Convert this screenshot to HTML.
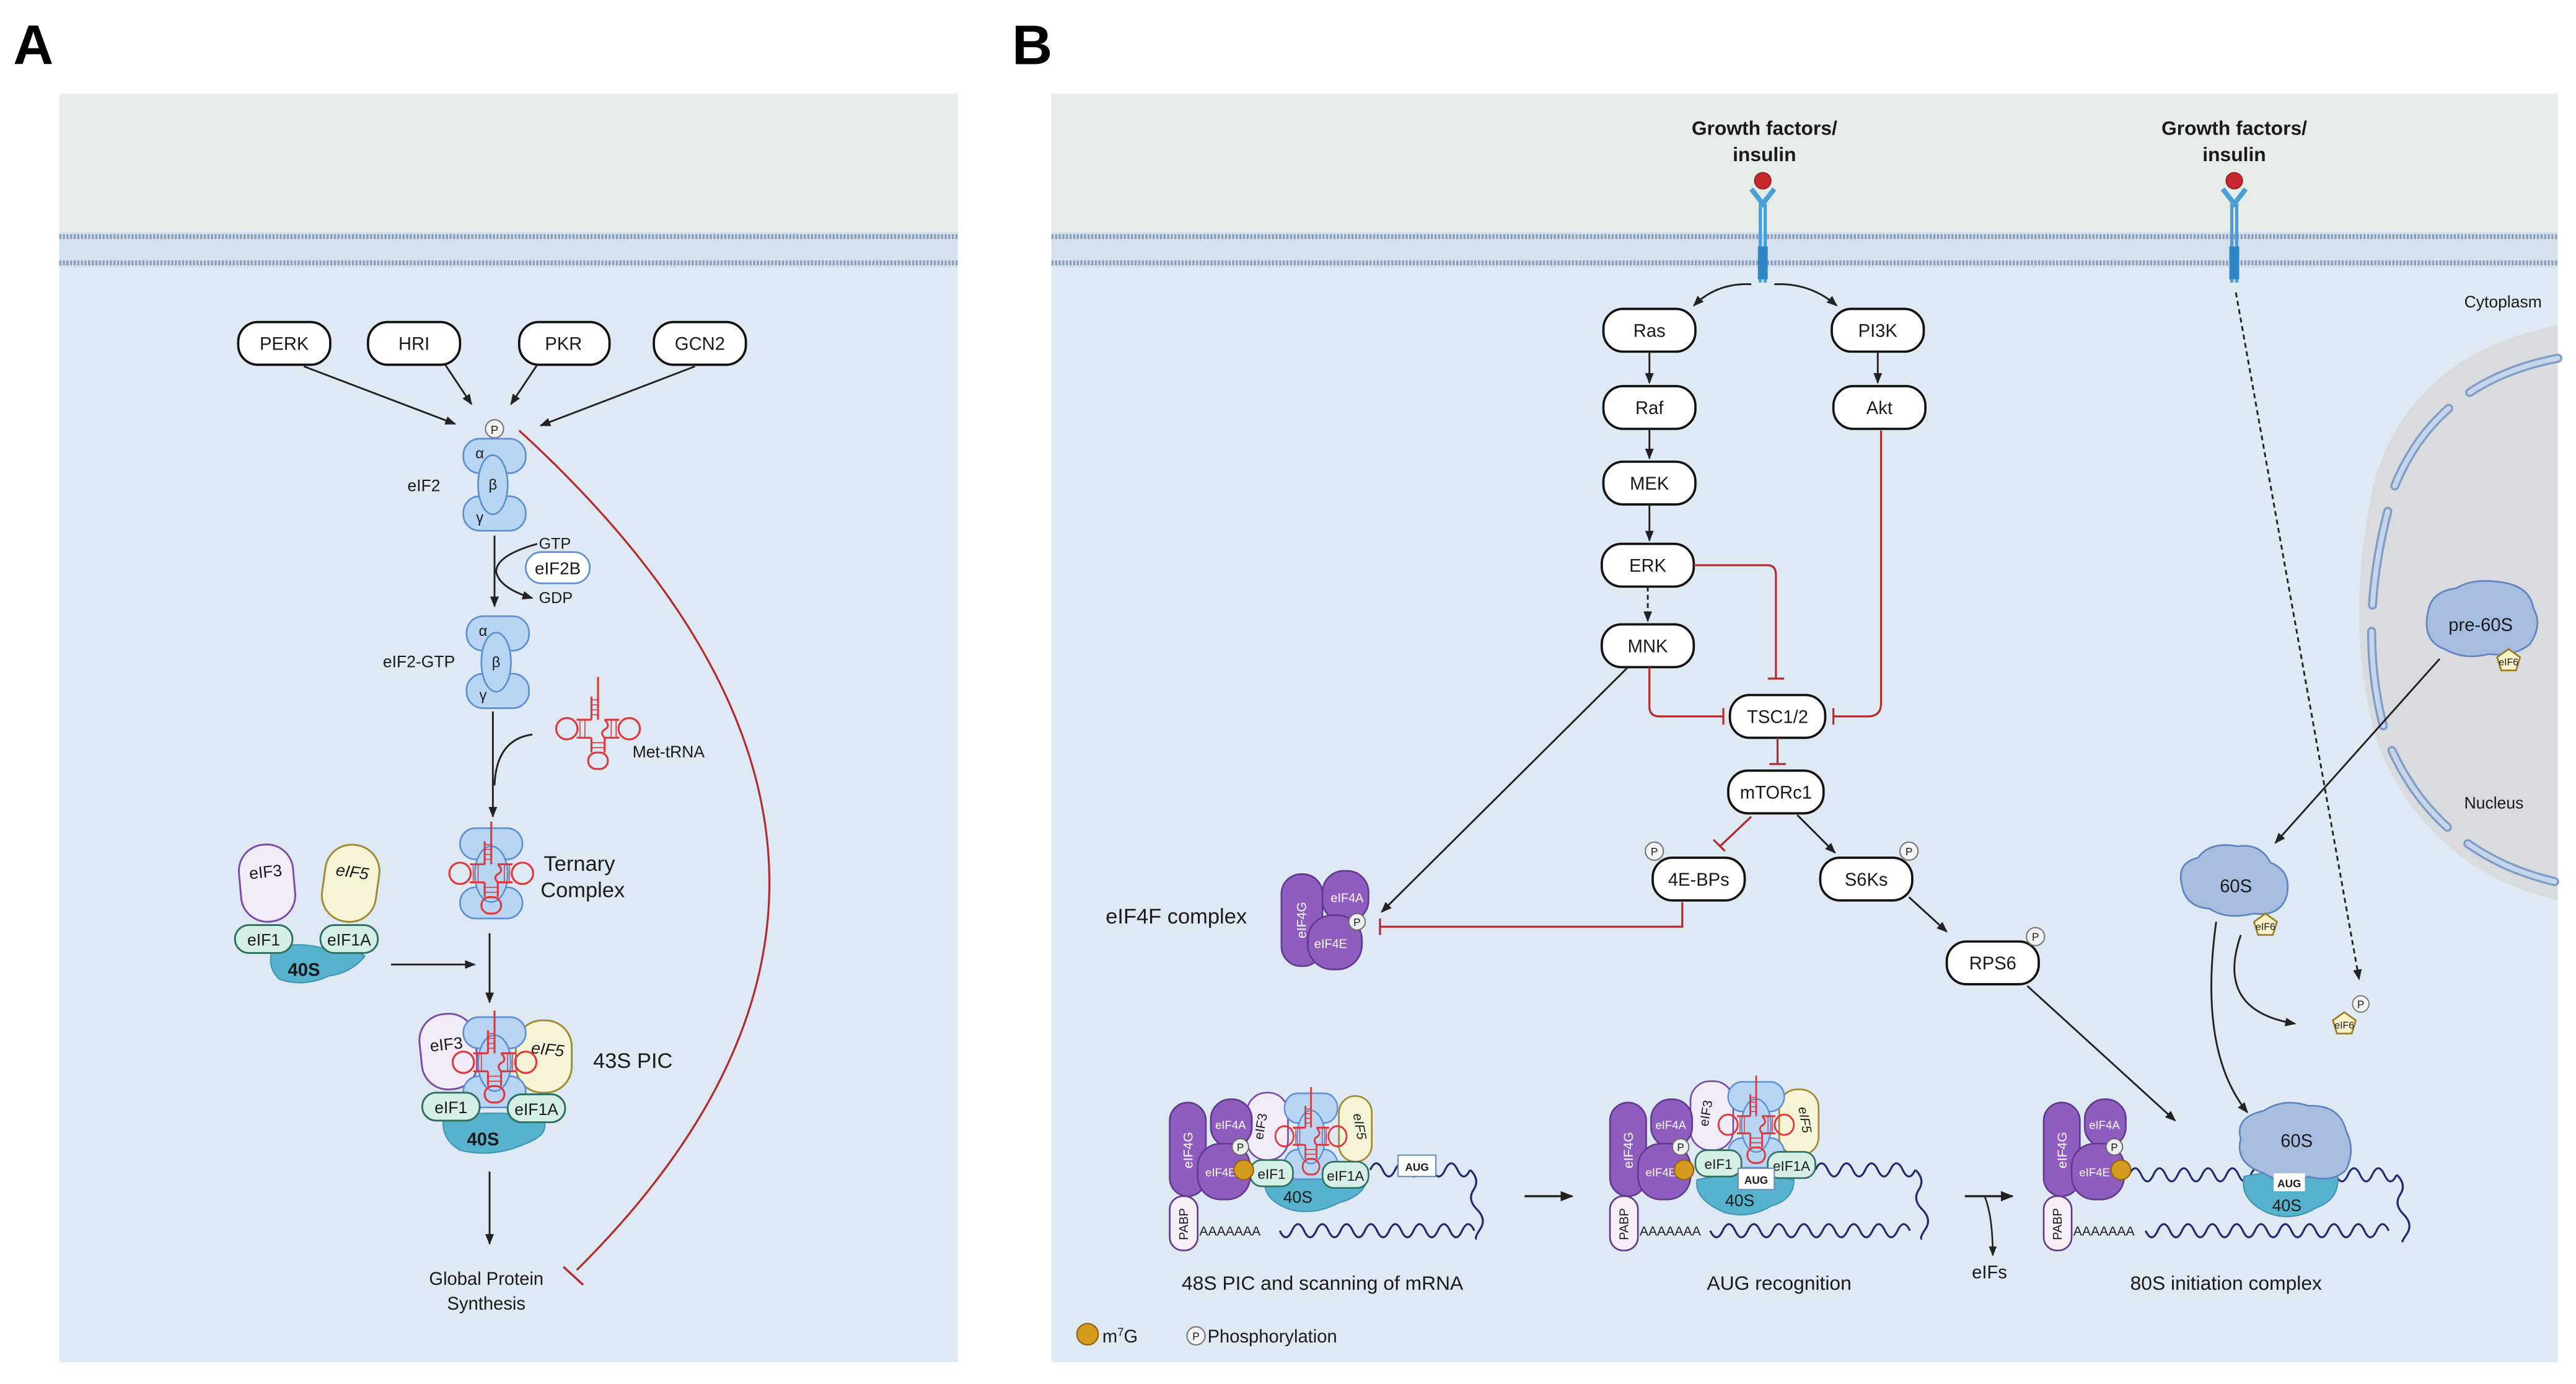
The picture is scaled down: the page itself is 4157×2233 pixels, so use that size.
<!DOCTYPE html>
<html><head><meta charset="utf-8"><style>
html,body{margin:0;padding:0;background:#fff;}
svg{display:block;}
text{font-family:"Liberation Sans",sans-serif;fill:#1a1a1a;}
</style></head><body>
<svg width="4157" height="2233" viewBox="0 0 1568 842.3" xmlns="http://www.w3.org/2000/svg">
<defs>
<marker id="ar" viewBox="0 0 10 10" refX="9" refY="5" markerWidth="6" markerHeight="6" orient="auto-start-reverse"><path d="M0,1 L10,5 L0,9 Z" fill="#222"/></marker>
<g id="trna" fill="none" stroke="#e0383c" stroke-width="1.2">
<path d="M0,-26 V-6 M-4,-20 V-6 M-4,-6 H-13 M-4,5 H-13 M4,-6 H13 M4,5 H13 M-4,5 V14 M4,5 V14 M0,-26 V-32"/>
<path d="M-4,-18 h4 M-4,-15 h4 M-4,-12 h4 M-4,-9 h4 M-11,-6 v11 M-8,-6 v11 M8,-6 v11 M11,-6 v11 M-4,8 h8 M-4,11 h8" stroke-width="0.6"/>
<circle cx="-19" cy="-0.5" r="6.5"/><circle cx="19" cy="-0.5" r="6.5"/>
<rect x="-6" y="14" width="12" height="10" rx="5"/>
<path d="M4,-6 q4,4 0,6 q-3,2 0,5"/>
</g>
<g id="eif2">
<rect x="-19" y="0" width="38" height="21" rx="10" fill="#b8d5f3" stroke="#5b8fd0" stroke-width="1"/>
<rect x="-19" y="35" width="38" height="21" rx="10" fill="#b8d5f3" stroke="#5b8fd0" stroke-width="1"/>
<ellipse cx="-1" cy="28" rx="9" ry="18" fill="#b8d5f3" stroke="#5b8fd0" stroke-width="1"/>
</g>
<g id="tern">
<rect x="-19" y="-28" width="38" height="19" rx="9.5" fill="#b8d5f3" stroke="#5b8fd0" stroke-width="1"/>
<rect x="-19" y="8" width="38" height="19" rx="9.5" fill="#b8d5f3" stroke="#5b8fd0" stroke-width="1"/>
<ellipse cx="0" cy="0" rx="10" ry="17" fill="#b8d5f3" stroke="#5b8fd0" stroke-width="1"/>
<use href="#trna"/>
</g>
<g id="cap">
<rect x="712" y="671" width="22" height="57" rx="11" fill="#8f5cbf" stroke="#5e3b8c"/>
<text x="0" y="0" transform="translate(726,700) rotate(-90)" font-size="8" text-anchor="middle" style="fill:#fff">eIF4G</text>
<rect x="737" y="669" width="25" height="29" rx="12" fill="#8f5cbf" stroke="#5e3b8c"/>
<text x="749" y="687" font-size="7" text-anchor="middle" style="fill:#fff">eIF4A</text>
<rect x="729" y="696" width="32" height="34" rx="14" fill="#8f5cbf" stroke="#5e3b8c"/>
<text x="743" y="716" font-size="7" text-anchor="middle" style="fill:#fff">eIF4E</text>
<circle cx="755" cy="698" r="5" fill="#eee" stroke="#666" stroke-width="0.7"/>
<text x="755" y="700.5" font-size="6.5" text-anchor="middle">P</text>
<rect x="712" y="728" width="17" height="33" rx="8" fill="#f7eef7" stroke="#5e3b8c"/>
<text x="0" y="0" transform="translate(723,745) rotate(-90)" font-size="7.5" text-anchor="middle">PABP</text>
<text x="730" y="752" font-size="8">AAAAAAA</text>
</g>
<g id="pent"><path d="M0,-7 L7,-2 L4.5,6 L-4.5,6 L-7,-2 Z" fill="#f8f0c8" stroke="#9a7a20" stroke-width="1"/></g>
</defs>

<!-- Labels -->
<text x="8" y="39" font-size="34" font-weight="bold" style="fill:#000">A</text>
<text x="616" y="39" font-size="34" font-weight="bold" style="fill:#000">B</text>

<!-- Panel A background -->
<rect x="36" y="57" width="547" height="772" fill="#dfe9f3"/>
<rect x="36" y="57" width="547" height="84" fill="#e6ede9"/>
<rect x="36" y="141" width="547" height="22" fill="#d4e1ee"/>
<line x1="36" y1="144" x2="583" y2="144" stroke="#8c9db8" stroke-width="3" stroke-dasharray="1.3 0.9"/>
<line x1="36" y1="160" x2="583" y2="160" stroke="#8c9db8" stroke-width="3" stroke-dasharray="1.3 0.9"/>

<!-- Panel B background -->
<rect x="640" y="57" width="917" height="772" fill="#dfe9f3"/>
<rect x="640" y="57" width="917" height="84" fill="#e6ede9"/>
<rect x="640" y="141" width="917" height="22" fill="#d4e1ee"/>
<line x1="640" y1="144" x2="1557" y2="144" stroke="#8c9db8" stroke-width="3" stroke-dasharray="1.3 0.9"/>
<line x1="640" y1="160" x2="1557" y2="160" stroke="#8c9db8" stroke-width="3" stroke-dasharray="1.3 0.9"/>

<!-- ===== Panel A ===== -->
<g font-size="11" text-anchor="middle">
<rect x="145" y="196" width="56" height="26" rx="12" fill="#fff" stroke="#111" stroke-width="1.4"/><text x="173" y="213">PERK</text>
<rect x="224" y="196" width="56" height="26" rx="12" fill="#fff" stroke="#111" stroke-width="1.4"/><text x="252" y="213">HRI</text>
<rect x="316" y="196" width="55" height="26" rx="12" fill="#fff" stroke="#111" stroke-width="1.4"/><text x="343" y="213">PKR</text>
<rect x="398" y="196" width="56" height="26" rx="12" fill="#fff" stroke="#111" stroke-width="1.4"/><text x="426" y="213">GCN2</text>
</g>
<g stroke="#222" stroke-width="1.1" fill="none" marker-end="url(#ar)">
<line x1="185" y1="223" x2="277" y2="258"/>
<line x1="271" y1="222" x2="287" y2="246"/>
<line x1="327" y1="222" x2="311" y2="246"/>
<line x1="423" y1="223" x2="329" y2="259"/>
</g>
<circle cx="301" cy="261" r="5.5" fill="#f3f3f3" stroke="#777" stroke-width="0.8"/>
<text x="301" y="264" font-size="7" text-anchor="middle">P</text>
<use href="#eif2" x="301" y="267"/>
<g font-size="9" text-anchor="middle"><text x="292" y="279">α</text><text x="300" y="298">β</text><text x="292" y="318">γ</text></g>
<text x="258" y="299" font-size="10" text-anchor="middle">eIF2</text>
<line x1="301" y1="326" x2="301" y2="369" stroke="#222" stroke-width="1.1" marker-end="url(#ar)"/>
<path d="M327,331 Q302,338 302,348 Q304,358 324,364" fill="none" stroke="#222" stroke-width="1.1" marker-end="url(#ar)"/>
<text x="328" y="334" font-size="9.5">GTP</text>
<rect x="320" y="336" width="39" height="19" rx="9.5" fill="#fff" stroke="#5b8fd0" stroke-width="1"/>
<text x="339.5" y="349.5" font-size="10.5" text-anchor="middle">eIF2B</text>
<text x="328" y="367" font-size="9.5">GDP</text>
<use href="#eif2" x="303" y="375"/>
<g font-size="9" text-anchor="middle"><text x="294" y="387">α</text><text x="302" y="406">β</text><text x="294" y="426">γ</text></g>
<text x="255" y="406" font-size="10" text-anchor="middle">eIF2-GTP</text>
<line x1="300" y1="433" x2="300" y2="497" stroke="#222" stroke-width="1.1" marker-end="url(#ar)"/>
<path d="M324,447 Q302,450 301,478" fill="none" stroke="#222" stroke-width="1.1"/>
<use href="#trna" x="364" y="444"/>
<text x="385" y="461" font-size="10">Met-tRNA</text>
<use href="#tern" x="299" y="532"/>
<text x="331" y="530" font-size="13">Ternary</text>
<text x="329" y="546" font-size="13">Complex</text>
<line x1="298" y1="568" x2="298" y2="610" stroke="#222" stroke-width="1.1" marker-end="url(#ar)"/>
<!-- left 40S group -->
<path d="M166,578 Q180,572 200,578 Q215,575 222,582 Q214,592 200,594 Q185,601 170,596 Q162,588 166,578 Z" fill="#56b2cd" stroke="#3f95b2" stroke-width="0.8"/>
<text x="185" y="594" font-size="11" text-anchor="middle" font-weight="bold">40S</text>
<rect x="146" y="514" width="33" height="47" rx="16" fill="#f2ecf8" stroke="#7a4aa8" stroke-width="1.1" transform="rotate(-5 162 537)"/>
<text x="162" y="534" font-size="10" text-anchor="middle" transform="rotate(-6 162 534)">eIF3</text>
<rect x="197" y="514" width="33" height="47" rx="16" fill="#f6f3d6" stroke="#a08a30" stroke-width="1.1" transform="rotate(8 213 537)"/>
<text x="214" y="534" font-size="10" text-anchor="middle" font-style="italic" transform="rotate(8 214 534)">eIF5</text>
<rect x="143" y="563" width="35" height="17" rx="8.5" fill="#d5efe6" stroke="#2d7060" stroke-width="1.1"/>
<text x="160.5" y="575.5" font-size="10" text-anchor="middle">eIF1</text>
<rect x="195" y="563" width="35" height="17" rx="8.5" fill="#d5efe6" stroke="#2d7060" stroke-width="1.1"/>
<text x="212.5" y="575.5" font-size="10" text-anchor="middle">eIF1A</text>
<line x1="238" y1="587" x2="289" y2="587" stroke="#222" stroke-width="1.1" marker-end="url(#ar)"/>
<!-- 43S PIC -->
<path d="M270,680 Q300,675 330,680 Q336,690 320,696 Q300,705 280,700 Q268,693 270,680 Z" fill="#56b2cd" stroke="#3f95b2" stroke-width="0.8"/>
<rect x="256" y="617" width="34" height="46" rx="16" fill="#f2ecf8" stroke="#7a4aa8" stroke-width="1.1" transform="rotate(-6 273 640)"/>
<rect x="314" y="621" width="34" height="44" rx="16" fill="#f6f3d6" stroke="#a08a30" stroke-width="1.1"/>
<use href="#tern" x="301" y="647"/>
<text x="272" y="639" font-size="10" text-anchor="middle" transform="rotate(-6 272 639)">eIF3</text>
<text x="333" y="642" font-size="10" text-anchor="middle" font-style="italic" transform="rotate(6 333 642)">eIF5</text>
<rect x="257" y="665" width="35" height="17" rx="8.5" fill="#d5efe6" stroke="#2d7060" stroke-width="1.1"/>
<text x="274.5" y="677.5" font-size="10" text-anchor="middle">eIF1</text>
<rect x="309" y="666" width="35" height="17" rx="8.5" fill="#d5efe6" stroke="#2d7060" stroke-width="1.1"/>
<text x="326.5" y="678.5" font-size="10" text-anchor="middle">eIF1A</text>
<text x="294" y="697" font-size="11" text-anchor="middle" font-weight="bold">40S</text>
<text x="361" y="650" font-size="13">43S PIC</text>
<line x1="298" y1="713" x2="298" y2="757" stroke="#222" stroke-width="1.1" marker-end="url(#ar)"/>
<text x="296" y="782" font-size="11" text-anchor="middle">Global Protein</text>
<text x="296" y="797" font-size="11" text-anchor="middle">Synthesis</text>
<path d="M316,262 Q602,524 351,773" fill="none" stroke="#b5282e" stroke-width="1.2"/>
<line x1="343" y1="771" x2="355" y2="782" stroke="#b5282e" stroke-width="1.3"/>

<!-- ===== Panel B ===== -->
<!-- nucleus -->
<path d="M1557,198 Q1470,215 1446,290 Q1425,380 1448,455 Q1480,530 1557,548 Z" fill="#d9dbdf"/>
<path d="M1557,218 Q1484,232 1458,295 Q1432,380 1453,450 Q1482,520 1557,537" fill="none" stroke="#7f9cc4" stroke-width="5.5" stroke-linecap="round" stroke-dasharray="58 16"/>
<path d="M1557,218 Q1484,232 1458,295 Q1432,380 1453,450 Q1482,520 1557,537" fill="none" stroke="#c4d5ec" stroke-width="3" stroke-linecap="round" stroke-dasharray="58 16"/>
<text x="1500" y="187" font-size="10">Cytoplasm</text>
<text x="1500" y="492" font-size="10">Nucleus</text>
<!-- receptors -->
<g>
<text x="1074" y="82" font-size="12" font-weight="bold" text-anchor="middle">Growth factors/</text>
<text x="1074" y="98" font-size="12" font-weight="bold" text-anchor="middle">insulin</text>
<text x="1360" y="82" font-size="12" font-weight="bold" text-anchor="middle">Growth factors/</text>
<text x="1360" y="98" font-size="12" font-weight="bold" text-anchor="middle">insulin</text>
</g>
<g id="rec1">
<circle cx="1073" cy="110" r="5" fill="#c8282e" stroke="#8a1a1f" stroke-width="0.6"/>
<path d="M1066,115 L1073,124 L1080,115" fill="none" stroke="#4aa0d6" stroke-width="3"/>
<line x1="1071.5" y1="124" x2="1071.5" y2="172" stroke="#4aa0d6" stroke-width="2"/>
<line x1="1074.5" y1="124" x2="1074.5" y2="172" stroke="#4aa0d6" stroke-width="2"/>
<rect x="1070" y="150" width="6" height="20" fill="#2f86c2"/>
</g>
<use href="#rec1" x="287" y="0"/>
<path d="M1066,173 Q1045,172 1031,186" fill="none" stroke="#222" stroke-width="1.1" marker-end="url(#ar)"/>
<path d="M1080,173 Q1102,172 1118,186" fill="none" stroke="#222" stroke-width="1.1" marker-end="url(#ar)"/>
<g font-size="11" text-anchor="middle">
<rect x="976" y="188" width="56" height="26" rx="12" fill="#fff" stroke="#111" stroke-width="1.4"/><text x="1004" y="205">Ras</text>
<rect x="1115" y="188" width="56" height="26" rx="12" fill="#fff" stroke="#111" stroke-width="1.4"/><text x="1143" y="205">PI3K</text>
<rect x="976" y="235" width="56" height="26" rx="12" fill="#fff" stroke="#111" stroke-width="1.4"/><text x="1004" y="252">Raf</text>
<rect x="1116" y="235" width="56" height="26" rx="12" fill="#fff" stroke="#111" stroke-width="1.4"/><text x="1144" y="252">Akt</text>
<rect x="976" y="281" width="56" height="26" rx="12" fill="#fff" stroke="#111" stroke-width="1.4"/><text x="1004" y="298">MEK</text>
<rect x="975" y="331" width="56" height="26" rx="12" fill="#fff" stroke="#111" stroke-width="1.4"/><text x="1003" y="348">ERK</text>
<rect x="975" y="380" width="56" height="26" rx="12" fill="#fff" stroke="#111" stroke-width="1.4"/><text x="1003" y="397">MNK</text>
<rect x="1053" y="423" width="58" height="26" rx="12" fill="#fff" stroke="#111" stroke-width="1.4"/><text x="1082" y="440">TSC1/2</text>
<rect x="1052" y="469" width="58" height="26" rx="12" fill="#fff" stroke="#111" stroke-width="1.4"/><text x="1081" y="486">mTORc1</text>
<rect x="1006" y="522" width="56" height="26" rx="12" fill="#fff" stroke="#111" stroke-width="1.4"/><text x="1034" y="539">4E-BPs</text>
<rect x="1108" y="522" width="56" height="26" rx="12" fill="#fff" stroke="#111" stroke-width="1.4"/><text x="1136" y="539">S6Ks</text>
<rect x="1185" y="573" width="56" height="26" rx="12" fill="#fff" stroke="#111" stroke-width="1.4"/><text x="1213" y="590">RPS6</text>
</g>
<g font-size="6.5" text-anchor="middle">
<circle cx="1007" cy="518" r="5.5" fill="#f3f3f3" stroke="#777" stroke-width="0.8"/><text x="1007" y="520.5">P</text>
<circle cx="1162" cy="518" r="5.5" fill="#f3f3f3" stroke="#777" stroke-width="0.8"/><text x="1162" y="520.5">P</text>
<circle cx="1239" cy="570" r="5.5" fill="#f3f3f3" stroke="#777" stroke-width="0.8"/><text x="1239" y="572.5">P</text>
</g>
<g stroke="#222" stroke-width="1.1" fill="none" marker-end="url(#ar)">
<line x1="1004" y1="214" x2="1004" y2="233"/>
<line x1="1143" y1="214" x2="1143" y2="233"/>
<line x1="1004" y1="261" x2="1004" y2="279"/>
<line x1="1004" y1="307" x2="1004" y2="329"/>
<line x1="1003" y1="357" x2="1003" y2="378" stroke-dasharray="3 2"/>
<line x1="1094" y1="496" x2="1117" y2="519"/>
<line x1="1162" y1="546" x2="1185" y2="567"/>
<line x1="1234" y1="600" x2="1324" y2="682"/>
<line x1="991" y1="406" x2="841" y2="555"/>
<line x1="1361" y1="178" x2="1436" y2="596" stroke-dasharray="3 2.2"/>
<line x1="1485" y1="401" x2="1385" y2="513"/>
<path d="M1364,569 Q1348,615 1397,623"/>
<path d="M1349,561 Q1338,640 1368,677"/>
</g>
<g stroke="#b5282e" stroke-width="1.2" fill="none">
<path d="M1031,344 H1076 Q1081,344 1081,350 V413"/><line x1="1076" y1="413" x2="1086" y2="413"/>
<path d="M1145,262 V428 Q1145,436 1137,436 H1116"/><line x1="1116" y1="431" x2="1116" y2="441"/>
<path d="M1004,406 V430 Q1004,436 1010,436 H1049"/><line x1="1049" y1="431" x2="1049" y2="441"/>
<line x1="1082" y1="449" x2="1082" y2="465"/><line x1="1077" y1="465" x2="1087" y2="465"/>
<line x1="1066" y1="497" x2="1047" y2="515"/><line x1="1043" y1="511" x2="1050" y2="518"/>
<path d="M1024,549 V564 H840"/><line x1="840" y1="559" x2="840" y2="569"/>
</g>
<!-- eIF4F complex -->
<rect x="780" y="532" width="25" height="56" rx="12" fill="#8f5cbf" stroke="#5e3b8c"/>
<text transform="translate(795,560) rotate(-90)" font-size="8" text-anchor="middle" style="fill:#fff">eIF4G</text>
<rect x="805" y="530" width="28" height="31" rx="13" fill="#8f5cbf" stroke="#5e3b8c"/>
<text x="820" y="549" font-size="7.5" text-anchor="middle" style="fill:#fff">eIF4A</text>
<rect x="796" y="557" width="33" height="33" rx="15" fill="#8f5cbf" stroke="#5e3b8c"/>
<text x="810" y="577" font-size="7.5" text-anchor="middle" style="fill:#fff">eIF4E</text>
<circle cx="826" cy="561" r="5" fill="#eee" stroke="#666" stroke-width="0.7"/><text x="826" y="563.5" font-size="6.5" text-anchor="middle">P</text>
<text x="673" y="562" font-size="13">eIF4F complex</text>
<!-- ribosome blobs -->
<path d="M1478,372 Q1480,360 1495,358 Q1505,352 1520,354 Q1540,356 1542,370 Q1548,380 1540,392 Q1530,400 1515,398 Q1500,402 1488,395 Q1474,390 1478,372 Z" fill="#a7bde0" stroke="#5f82c0" stroke-width="1"/>
<text x="1510" y="384" font-size="11" text-anchor="middle">pre-60S</text>
<use href="#pent" x="1527" y="402"/><text x="1527" y="405" font-size="6" text-anchor="middle">eIF6</text>
<path d="M1328,538 Q1325,525 1338,522 Q1345,512 1362,515 Q1376,513 1382,525 Q1395,530 1392,545 Q1388,558 1372,556 Q1355,560 1345,553 Q1330,552 1328,538 Z" fill="#a7bde0" stroke="#5f82c0" stroke-width="1"/>
<text x="1361" y="543" font-size="11" text-anchor="middle">60S</text>
<use href="#pent" x="1379" y="563"/><text x="1379" y="566" font-size="6" text-anchor="middle">eIF6</text>
<use href="#pent" x="1427" y="623"/><text x="1427" y="626" font-size="6" text-anchor="middle">eIF6</text>
<circle cx="1437" cy="611" r="5" fill="#f3f3f3" stroke="#777" stroke-width="0.7"/><text x="1437" y="613.5" font-size="6.5" text-anchor="middle">P</text>

<!-- ===== bottom complexes ===== -->
<g fill="none" stroke="#1f2a6e" stroke-width="1.2">
<!-- complex1 -->
<path d="M779,749 q3.7,8 7.4,0 t7.4,0 t7.4,0 t7.4,0 t7.4,0 t7.4,0 t7.4,0 t7.4,0 t7.4,0 t7.4,0 t7.4,0 t7.4,0 t7.4,0 t7.4,0 t7.4,0 t7.4,0"/>
<path d="M834,712 q3.8,-8 7.6,0 t7.6,0 t7.6,0 t7.6,0 t7.6,0 t7.6,0 t7.6,0 t7.6,0"/>
<path d="M895,712 q6,6 2,12 t2,12 t2,12 t-2,6" />
<!-- complex2 -->
<path d="M1041,749 q3.8,8 7.6,0 t7.6,0 t7.6,0 t7.6,0 t7.6,0 t7.6,0 t7.6,0 t7.6,0 t7.6,0 t7.6,0 t7.6,0 t7.6,0 t7.6,0 t7.6,0 t7.6,0 t7.6,0"/>
<path d="M1105,712 q3.8,-8 7.6,0 t7.6,0 t7.6,0 t7.6,0 t7.6,0 t7.6,0 t7.6,0 t7.6,0"/>
<path d="M1166,712 q6,6 2,12 t2,12 t2,12 t-2,6"/>
<!-- complex3 -->
<path d="M1306,749 q3.7,8 7.4,0 t7.4,0 t7.4,0 t7.4,0 t7.4,0 t7.4,0 t7.4,0 t7.4,0 t7.4,0 t7.4,0 t7.4,0 t7.4,0 t7.4,0 t7.4,0 t7.4,0 t7.4,0 t7.4,0 t7.4,0 t7.4,0 t7.4,0"/>
<path d="M1296,715 q3.7,-8 7.4,0 t7.4,0 t7.4,0 t7.4,0 t7.4,0 t7.4,0 t7.4,0 t7.4,0 t7.4,0 t7.4,0 t7.4,0 t7.4,0 t7.4,0 t7.4,0 t7.4,0 t7.4,0 t7.4,0 t7.4,0 t7.4,0 t7.4,0 t7.4,0 t7.4,0"/>
<path d="M1459,715 q6,6 2,12 t2,12 t2,12 t-2,4"/>
</g>
<!-- complex 1 -->
<path d="M770,717 Q800,712 832,718 Q830,728 815,732 Q800,740 785,736 Q768,730 770,717 Z" fill="#56b2cd" stroke="#3f95b2" stroke-width="0.8"/>
<rect x="759" y="665" width="25" height="41" rx="12" fill="#f2ecf8" stroke="#7a4aa8" stroke-width="1"/>
<rect x="815" y="667" width="20" height="40" rx="10" fill="#f6f3d6" stroke="#a08a30" stroke-width="1"/>
<use href="#tern" transform="translate(798,692) scale(0.85,0.95)"/>
<text x="770" y="686" font-size="8" text-anchor="middle" transform="rotate(-80 770 686)">eIF3</text>
<text x="825" y="686" font-size="8" text-anchor="middle" font-style="italic" transform="rotate(80 825 686)">eIF5</text>
<rect x="761" y="706" width="26" height="16" rx="7" fill="#d5efe6" stroke="#2d7060" stroke-width="1"/><text x="774" y="717.5" font-size="8.5" text-anchor="middle">eIF1</text>
<rect x="805" y="707" width="28" height="16" rx="7" fill="#d5efe6" stroke="#2d7060" stroke-width="1"/><text x="819" y="718.5" font-size="8.5" text-anchor="middle">eIF1A</text>
<text x="790" y="732" font-size="10" text-anchor="middle">40S</text>
<rect x="851" y="703" width="23" height="13" fill="#fff" stroke="#6a8fbf" stroke-width="0.8"/><text x="862.5" y="712.5" font-size="6.5" text-anchor="middle" font-weight="bold">AUG</text>
<use href="#cap"/>
<circle cx="757" cy="712" r="6" fill="#d49a1e" stroke="#8a6210" stroke-width="0.8"/>
<text x="805" y="785" font-size="12" text-anchor="middle">48S PIC and scanning of mRNA</text>
<line x1="928" y1="728" x2="957" y2="728" stroke="#222" stroke-width="1.3" marker-end="url(#ar)"/>
<!-- complex 2 -->
<path d="M1033,718 Q1060,712 1092,718 Q1092,730 1078,734 Q1065,742 1050,738 Q1031,730 1033,718 Z" fill="#56b2cd" stroke="#3f95b2" stroke-width="0.8"/>
<rect x="1029" y="658" width="26" height="42" rx="12" fill="#f2ecf8" stroke="#7a4aa8" stroke-width="1"/>
<rect x="1083" y="663" width="24" height="40" rx="11" fill="#f6f3d6" stroke="#a08a30" stroke-width="1"/>
<use href="#tern" transform="translate(1069,685) scale(0.9,0.95)"/>
<text x="1041" y="678" font-size="8" text-anchor="middle" transform="rotate(-80 1041 678)">eIF3</text>
<text x="1096" y="682" font-size="8" text-anchor="middle" font-style="italic" transform="rotate(80 1096 682)">eIF5</text>
<rect x="1032" y="700" width="28" height="16" rx="7" fill="#d5efe6" stroke="#2d7060" stroke-width="1"/><text x="1046" y="711.5" font-size="8.5" text-anchor="middle">eIF1</text>
<rect x="1076" y="701" width="29" height="16" rx="7" fill="#d5efe6" stroke="#2d7060" stroke-width="1"/><text x="1090.5" y="712.5" font-size="8.5" text-anchor="middle">eIF1A</text>
<rect x="1058" y="711" width="22" height="13" fill="#fff" stroke="#6a8fbf" stroke-width="0.8"/><text x="1069" y="720.5" font-size="6.5" text-anchor="middle" font-weight="bold">AUG</text>
<text x="1059" y="734" font-size="10" text-anchor="middle">40S</text>
<use href="#cap" x="268"/>
<circle cx="1025" cy="712" r="6" fill="#d49a1e" stroke="#8a6210" stroke-width="0.8"/>
<text x="1083" y="785" font-size="12" text-anchor="middle">AUG recognition</text>
<line x1="1196" y1="728" x2="1225" y2="728" stroke="#222" stroke-width="1.3" marker-end="url(#ar)"/>
<path d="M1208,728 Q1213,740 1213,764" fill="none" stroke="#222" stroke-width="1" marker-end="url(#ar)"/>
<text x="1211" y="778" font-size="11" text-anchor="middle">eIFs</text>
<!-- complex 3 -->
<path d="M1366,716 Q1395,710 1423,716 Q1424,730 1410,735 Q1395,744 1380,738 Q1363,730 1366,716 Z" fill="#56b2cd" stroke="#3f95b2" stroke-width="0.8"/>
<path d="M1364,693 Q1360,680 1378,676 Q1390,668 1405,673 Q1424,672 1428,688 Q1434,700 1428,712 Q1420,720 1405,716 Q1390,722 1378,714 Q1360,708 1364,693 Z" fill="#a7bde0" stroke="#5f82c0" stroke-width="1"/>
<text x="1398" y="698" font-size="11" text-anchor="middle">60S</text>
<rect x="1384" y="714" width="19" height="11" fill="#fff"/><text x="1393.5" y="722.5" font-size="6.5" text-anchor="middle" font-weight="bold">AUG</text>
<text x="1392" y="737" font-size="10" text-anchor="middle">40S</text>
<use href="#cap" x="532"/>
<circle cx="1291" cy="712" r="6" fill="#d49a1e" stroke="#8a6210" stroke-width="0.8"/>
<text x="1355" y="785" font-size="12" text-anchor="middle">80S initiation complex</text>
<!-- legend -->
<circle cx="662" cy="812" r="6.5" fill="#d49a1e" stroke="#8a6210" stroke-width="0.8"/>
<text x="671" y="817" font-size="11">m<tspan font-size="7" dy="-4">7</tspan><tspan dy="4">G</tspan></text>
<circle cx="728" cy="813" r="5.5" fill="#f3f3f3" stroke="#777" stroke-width="0.8"/><text x="728" y="815.5" font-size="6.5" text-anchor="middle">P</text>
<text x="735" y="817" font-size="11">Phosphorylation</text>
</svg>
</body></html>
